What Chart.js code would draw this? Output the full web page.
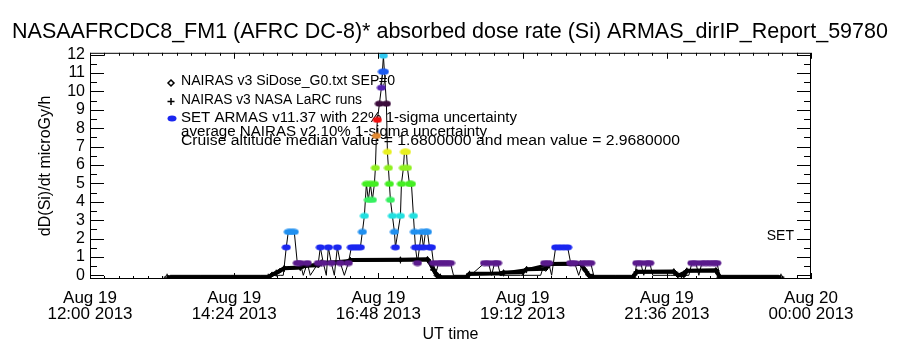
<!DOCTYPE html>
<html>
<head>
<meta charset="utf-8">
<script src="https://cdn.jsdelivr.net/npm/chart.js@4.4.0/dist/chart.umd.min.js"></script>
<style>
html, body { margin: 0; padding: 0; background: #fff; }
#wrap { width: 900px; height: 350px; }
</style>
</head>
<body>
<div id="wrap"><canvas id="chart_armasDoseRate"></canvas></div>
<script>
var titleText = 'NASAAFRCDC8_FM1 (AFRC DC-8)* absorbed dose rate (Si) ARMAS_dirIP_Report_59780';

// x axis: UT hours on Aug 19 2013
var xTickHours = [12, 14.4, 16.8, 19.2, 21.6, 24];
var xTickLabels = [
    ['Aug 19', '12:00 2013'], ['Aug 19', '14:24 2013'], ['Aug 19', '16:48 2013'],
    ['Aug 19', '19:12 2013'], ['Aug 19', '21:36 2013'], ['Aug 20', '00:00 2013']
];
var yTickValues = [0, 1, 2, 3, 4, 5, 6, 7, 8, 9, 10, 11, 12];

// ARMAS SET dose rate levels seen in the plot (microGy/h)
var armasLevels = [0, 0.67, 1.52, 2.36, 3.23, 4.1, 4.97, 5.84, 6.71, 7.58, 8.45, 9.33, 10.2, 11.07, 11.94];
var armasTimes = [
    '13:20', '13:50', '14:20', '14:50', '15:10', '15:13', '15:16', '15:18', '15:21', '15:24',
    '15:27', '15:30', '15:33', '15:37', '15:40', '15:48', '15:50', '15:53', '15:56', '15:58',
    '16:01', '16:04', '16:07', '16:10', '16:14', '16:18', '16:21', '16:24', '16:27', '16:30',
    '16:32', '16:34', '16:36', '16:38', '16:40', '16:42', '16:44', '16:45', '16:46', '16:47',
    '16:49', '16:51', '16:52', '16:53', '16:54', '16:56', '16:57', '16:58', '16:59', '17:00',
    '17:02', '17:04', '17:05', '17:10', '17:11', '17:13', '17:14', '17:16', '17:17', '17:19',
    '17:21', '17:23', '17:24', '17:25', '17:27', '17:29', '17:31', '17:33', '17:35', '17:37',
    '17:39', '17:41', '17:43', '17:45', '17:48', '17:51', '17:54', '17:57', '18:00', '18:03',
    '18:20', '18:34', '18:38', '18:41', '18:44', '18:47', '18:50', '19:10', '19:30', '19:34',
    '19:38', '19:41', '19:45', '19:49', '19:53', '19:57', '20:00', '20:04', '20:08', '20:12',
    '20:16', '20:20', '20:23', '20:45', '21:04', '21:06', '21:10', '21:13', '21:16', '21:19',
    '21:22', '21:40', '21:58', '22:01', '22:05', '22:08', '22:11', '22:15', '22:19', '22:23',
    '22:26', '22:29', '22:50', '23:10', '23:28'
];
var armasValues = [
    0, 0, 0, 0, 0, 0, 1.52, 2.36, 2.36, 2.36,
    0.67, 0.67, 0, 0.67, 0, 0.67, 1.52, 0.67, 0, 1.52,
    0.67, 0, 1.52, 0.67, 0, 0.67, 1.52, 1.52, 1.52, 1.52,
    2.36, 3.23, 4.97, 4.1, 4.97, 4.1, 4.97, 5.84, 7.58, 8.45,
    9.33, 10.2, 11.07, 11.94, 11.07, 9.33, 6.71, 5.84, 4.97, 4.1,
    3.23, 2.36, 1.52, 3.23, 4.97, 5.84, 6.71, 6.71, 5.84, 4.97,
    4.97, 3.23, 2.36, 1.52, 0.67, 1.52, 2.36, 1.52, 2.36, 2.36,
    1.52, 1.52, 0.67, 0, 0.67, 0.67, 0.67, 0.67, 0.67, 0,
    0, 0.67, 0.67, 0, 0.67, 0.67, 0, 0, 0, 0.67,
    0.67, 0, 1.52, 1.52, 1.52, 1.52, 0.67, 0.67, 0, 0.67,
    0.67, 0.67, 0, 0, 0, 0.67, 0.67, 0, 0.67, 0.67,
    0, 0, 0, 0.67, 0.67, 0, 0.67, 0.67, 0.67, 0.67,
    0.67, 0, 0, 0, 0
];

// NAIRAS v3 SiDose_G0 along the flight track
var nairasTimes = [
    '13:17', '14:58', '15:02', '15:06', '15:10', '15:14', '15:30', '15:33', '15:48', '15:51',
    '16:15', '16:20', '17:10', '17:37', '17:40', '17:43', '17:46', '17:50', '18:16', '18:19',
    '18:50', '18:53', '19:12', '19:16', '19:35', '19:39', '20:10', '20:14', '20:18', '20:22',
    '21:02', '21:06', '21:43', '21:47', '21:53', '21:56', '22:25', '22:29', '23:30'
];
var nairasValues = [
    -0.1, -0.1, 0.05, 0.14, 0.26, 0.39, 0.42, 0.52, 0.54, 0.69,
    0.7, 0.83, 0.85, 0.87, 0.67, 0.31, 0.0, -0.1, -0.1, 0.08,
    0.1, 0.15, 0.17, 0.33, 0.35, 0.62, 0.64, 0.31, 0.0, -0.1,
    -0.1, 0.19, 0.21, 0.0, 0.0, 0.25, 0.27, -0.1, -0.1
];

// NAIRAS v3 NASA LaRC runs
var larcTimes = [
    '13:17', '14:58', '15:06', '15:14', '15:30', '15:51', '16:20', '17:10', '17:37', '17:43',
    '17:50', '18:16', '18:19', '18:53', '19:16', '19:39', '20:10', '20:18', '20:22', '21:02',
    '21:06', '21:43', '21:47', '21:56', '22:25', '22:29', '23:30'
];
var larcValues = [
    -0.1, -0.1, 0.12, 0.37, 0.42, 0.67, 0.8, 0.83, 0.85, 0.29,
    -0.1, -0.1, 0.06, 0.13, 0.31, 0.6, 0.62, 0.05, -0.1, -0.1,
    0.17, 0.19, 0.0, 0.23, 0.25, -0.1, -0.1
];

var legendLines = [
    'NAIRAS v3 SiDose_G0.txt SEP#0',
    'NAIRAS v3 NASA LaRC runs',
    'SET ARMAS v11.37 with 22% 1-sigma uncertainty',
    'average NAIRAS v2 10% 1-sigma uncertainty',
    'Cruise altitude median value = 1.6800000 and mean value = 2.9680000'
];

// colour per ARMAS level (same order as armasLevels); zero readings carry no dot
var armasLevelColors = [
    'rgba(0,0,0,0)', '#5a1a8c', '#1a26f0', '#2090f0', '#22e0e0', '#36f060', '#44ee22',
    '#90f020', '#e8f020', '#e08830', '#f01010', '#3c0c3c', '#5222b0', '#1a5af0', '#30c8f0'
];

function toHours(s) {
    var p = s.split(':');
    return parseInt(p[0], 10) + parseInt(p[1], 10) / 60;
}
function toPoints(times, values) {
    return times.map(function (t, i) { return { x: toHours(t), y: values[i] }; });
}
function ellipseImage(color) {
    var c = document.createElement('canvas');
    c.width = 10; c.height = 7;
    var g = c.getContext('2d');
    g.fillStyle = color;
    g.beginPath();
    g.ellipse(5, 3.5, 4.5, 3, 0, 0, Math.PI * 2);
    g.fill();
    return c;
}
var armasImages = armasLevelColors.map(ellipseImage);
function armasImageFor(v) {
    var best = 0;
    armasLevels.forEach(function (l, i) {
        if (Math.abs(l - v) < Math.abs(armasLevels[best] - v)) best = i;
    });
    return armasImages[best];
}

Chart.defaults.font.family = "'Liberation Sans', sans-serif";
Chart.defaults.color = '#000';

var frameTicks = {
    id: 'frameTicks',
    afterDatasetsDraw: function (chart) {
        var ctx = chart.ctx, a = chart.chartArea;
        var xs = chart.scales.x, ys = chart.scales.y;
        ctx.save();
        ctx.strokeStyle = '#000';
        ctx.lineWidth = 1;
        ctx.strokeRect(a.left + 0.5, a.top + 0.5, a.right - a.left - 1, a.bottom - a.top - 1);
        ctx.beginPath();
        for (var i = 0; i <= 50; i++) {
            var px = Math.round(xs.getPixelForValue(xs.min + i * 0.24)) + 0.5;
            var len = (i % 10 === 0) ? 6 : 3;
            ctx.moveTo(px, a.bottom); ctx.lineTo(px, a.bottom - len);
            ctx.moveTo(px, a.top); ctx.lineTo(px, a.top + len);
        }
        for (var j = 0; j <= 24; j++) {
            var py = Math.round(ys.getPixelForValue(j * 0.5)) + 0.5;
            var ylen = (j % 2 === 0) ? 14 : 7;
            ctx.moveTo(a.left, py); ctx.lineTo(a.left + ylen, py);
            ctx.moveTo(a.right, py); ctx.lineTo(a.right - ylen, py);
        }
        ctx.stroke();
        ctx.fillStyle = '#000';
        ctx.font = "14px 'Liberation Sans', sans-serif";
        ctx.textAlign = 'right';
        ctx.textBaseline = 'middle';
        ctx.fillText('SET', a.right - 17, 236);
        ctx.restore();
    }
};

var legendBox = {
    id: 'legendBox',
    beforeDatasetsDraw: function (chart) {
        var ctx = chart.ctx;
        var x0 = 181;
        var rows = [81, 100, 118, 132, 141];
        var rowEnds = [395, 362, 517, 487, 680];
        ctx.save();
        ctx.fillStyle = '#000';
        ctx.strokeStyle = '#000';
        ctx.font = "14px 'Liberation Sans', sans-serif";
        ctx.textAlign = 'left';
        ctx.textBaseline = 'middle';
        legendLines.forEach(function (t, i) {
            var w = ctx.measureText(t).width;
            ctx.save();
            ctx.translate(x0, rows[i]);
            ctx.scale((rowEnds[i] - x0) / w, 1);
            ctx.fillText(t, 0, 0);
            ctx.restore();
        });
        // symbols
        ctx.lineWidth = 1.5;
        ctx.beginPath();
        ctx.moveTo(171, 80); ctx.lineTo(174, 83); ctx.lineTo(171, 86); ctx.lineTo(168, 83); ctx.closePath();
        ctx.stroke();
        ctx.beginPath();
        ctx.moveTo(167.5, 101.5); ctx.lineTo(174.5, 101.5);
        ctx.moveTo(171, 98); ctx.lineTo(171, 105);
        ctx.stroke();
        ctx.drawImage(armasImages[2], 167, 115);
        ctx.restore();
    }
};

var chart_armasDoseRate = new Chart(document.getElementById('chart_armasDoseRate'), {
    type: 'scatter',
    data: {
        datasets: [
            {
                label: 'SET ARMAS v11.37',
                data: toPoints(armasTimes, armasValues),
                showLine: true,
                borderColor: '#000',
                borderWidth: 1,
                pointStyle: function (c) { return armasImageFor(c.raw.y); },
                pointRadius: 4,
                order: 0
            },
            {
                label: 'NAIRAS v3 SiDose_G0.txt SEP#0',
                data: toPoints(nairasTimes, nairasValues),
                showLine: true,
                borderColor: '#000',
                borderWidth: 4,
                pointStyle: 'rectRot',
                pointRadius: 2.5,
                pointBackgroundColor: 'rgba(0,0,0,0)',
                pointBorderColor: '#000',
                pointBorderWidth: 1,
                order: 1
            },
            {
                label: 'NAIRAS v3 NASA LaRC runs',
                data: toPoints(larcTimes, larcValues),
                showLine: true,
                borderColor: '#000',
                borderWidth: 3,
                pointStyle: 'cross',
                pointRadius: 3.5,
                pointBorderColor: '#000',
                pointBorderWidth: 1,
                order: 2
            }
        ]
    },
    options: {
        animation: false,
        responsive: true,
        maintainAspectRatio: false,
        layout: { padding: 0 },
        plugins: {
            legend: { display: false },
            tooltip: { enabled: false },
            title: {
                display: true,
                text: titleText,
                font: { size: 21.5, weight: 'normal' },
                padding: { top: 19, bottom: 8 }
            }
        },
        scales: {
            x: {
                type: 'linear',
                min: 12,
                max: 24,
                grid: { display: false, drawTicks: false },
                border: { display: false },
                afterBuildTicks: function (s) {
                    s.ticks = xTickHours.map(function (v) { return { value: v }; });
                },
                afterFit: function (s) { s.height = 71; },
                ticks: {
                    autoSkip: false,
                    maxRotation: 0,
                    padding: 11,
                    font: { size: 17, lineHeight: 0.95 },
                    callback: function (v, i) { return xTickLabels[i]; }
                },
                title: {
                    display: true,
                    text: 'UT time',
                    font: { size: 16 },
                    padding: { top: 0, bottom: 6 }
                }
            },
            y: {
                type: 'linear',
                min: -0.2,
                max: 12.1,
                grid: { display: false, drawTicks: false },
                border: { display: false },
                afterBuildTicks: function (s) {
                    s.ticks = yTickValues.map(function (v) { return { value: v }; });
                },
                afterFit: function (s) { s.width = 90; },
                ticks: { autoSkip: false, padding: 5, font: { size: 16 } },
                title: {
                    display: true,
                    text: 'dD(Si)/dt microGy/h',
                    font: { size: 16 },
                    padding: { top: 36, bottom: 0 }
                }
            },
            yRight: {
                type: 'linear',
                position: 'right',
                display: true,
                grid: { display: false, drawTicks: false },
                border: { display: false },
                ticks: { display: false },
                afterFit: function (s) { s.width = 89; }
            }
        }
    },
    plugins: [legendBox, frameTicks, {
        id: 'whiteBackground',
        beforeDraw: function (chart) {
            var ctx = chart.canvas.getContext('2d');
            ctx.save();
            ctx.globalCompositeOperation = 'destination-over';
            ctx.fillStyle = 'white';
            ctx.fillRect(0, 0, chart.canvas.width, chart.canvas.height);
            ctx.restore();
        }
    }]
});
</script>
</body>
</html>
